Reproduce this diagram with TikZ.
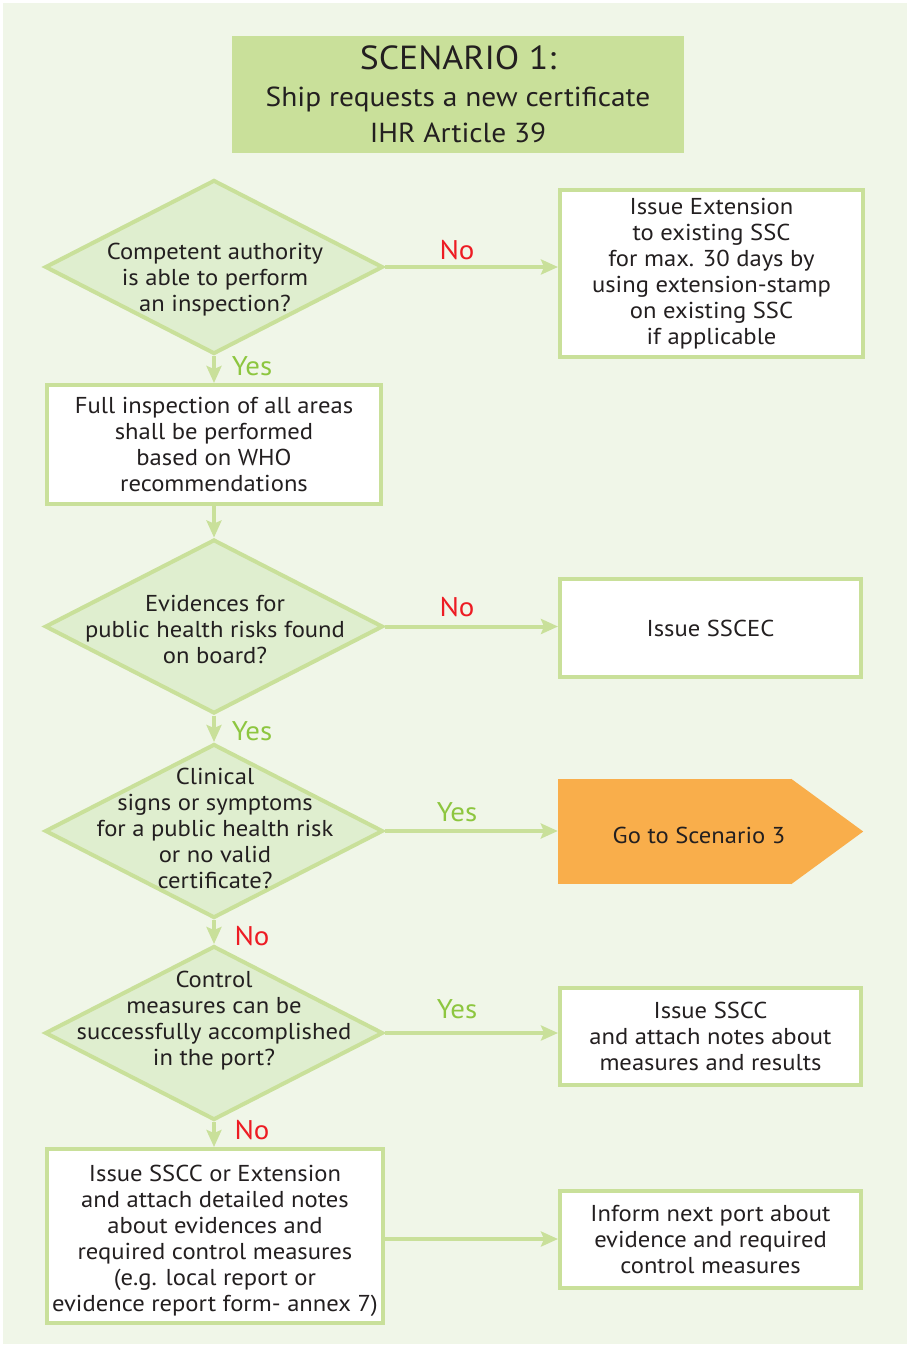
\documentclass[tikz,border=0pt]{standalone}
\usepackage{fontspec}
\setmainfont{PT Sans}[FakeStretch=1.07]
\usetikzlibrary{shapes.geometric,arrows.meta}
\definecolor{bgc}{RGB}{240,246,232}
\definecolor{lg}{RGB}{201,224,154}
\definecolor{dfill}{RGB}{223,238,207}
\definecolor{yesc}{RGB}{141,198,63}
\definecolor{noc}{RGB}{237,28,36}
\definecolor{orng}{RGB}{249,174,75}
\definecolor{txt}{RGB}{35,31,32}
\begin{document}
\begin{tikzpicture}[x=1pt,y=-1pt,
  every node/.style={text=txt},
  box/.style={draw=lg, line width=4pt, fill=white, inner sep=0pt, align=center,
    font=\fontsize{23}{26}\selectfont},
  dia/.style={diamond, draw=lg, fill=dfill, line width=4pt, inner sep=0pt,
    minimum width=338pt, minimum height=174pt, aspect=1.94},
  dtext/.style={align=center, font=\fontsize{23}{26}\selectfont, inner sep=0pt},
  arr/.style={draw=lg, line width=4pt, -{Stealth[length=17pt,width=15pt,inset=3pt]}},
  yeslab/.style={text=yesc, font=\fontsize{27}{30}\selectfont, inner sep=0pt},
  nolab/.style={text=noc, font=\fontsize{27}{30}\selectfont, inner sep=0pt}]
\useasboundingbox (0,0) rectangle (910,1347);
\fill[bgc] (3,3) rectangle (907,1344);

% title
\node[fill=lg, minimum width=452pt, minimum height=117pt, inner sep=0pt] (title) at (458,94.5) {};
\node[font=\fontsize{33.4}{36}\selectfont, inner sep=0pt] (t1) at (458,58) {SCENARIO 1:};
\node[font=\fontsize{27.5}{32}\selectfont, inner sep=0pt] (t2) at (458,99) {Ship requests a new certificate};
\node[font=\fontsize{27.5}{32}\selectfont, inner sep=0pt] (t3) at (458,133) {IHR Article 39};

% diamonds
\node[dia] (d1) at (214,267) {};
\node[dtext] (d1t) at (215,280) {Competent authority\\is able to perform\\an inspection?};
\node[dia] (d2) at (214,626.5) {};
\node[dtext] (d2t) at (215,629) {Evidences for\\public health risks found\\on board?};
\node[dia] (d3) at (214,831) {};
\node[dtext] (d3t) at (215,828) {Clinical\\signs or symptoms\\for a public health risk\\or no valid\\certificate?};
\node[dia] (d4) at (214,1033) {};
\node[dtext] (d4t) at (214,1020.5) {Control\\measures can be\\successfully accomplished\\in the port?};

% boxes
\node[box, minimum width=303pt, minimum height=167pt] (bA) at (711.5,273.5)
  {Issue Extension\\to existing SSC\\for max. 30 days by\\using extension-stamp\\on existing SSC\\if applicable};
\node[box, minimum width=334pt, minimum height=119pt] (b2) at (214,444.5)
  {Full inspection of all areas\\shall be performed\\based on WHO\\recommendations};
\node[box, minimum width=301pt, minimum height=98pt] (bS) at (710.5,628)
  {\raisebox{-3pt}{Issue SSCEC}};
\node[box, minimum width=301pt, minimum height=97pt] (bC) at (710.5,1036.5)
  {Issue SSCC\\and attach notes about\\measures and results};
\node[box, minimum width=336pt, minimum height=174pt] (bL) at (215,1236) {};
\node[dtext] (bLt) at (215,1241)
  {Issue SSCC or Extension\\and attach detailed notes\\about evidences and\\required control measures\\(e.g. local report or\\evidence report form- annex 7)};
\node[box, minimum width=301pt, minimum height=97pt] (bI) at (710.5,1239.5)
  {Inform next port about\\evidence and required\\control measures};

% orange
\node[fill=orng, minimum width=233pt, minimum height=105pt, inner sep=0pt] (go) at (674.5,831.5) {};
\fill[orng] (go.north east) -- ([xshift=72pt]go.east) -- (go.south east) -- cycle;
\node[font=\fontsize{23}{26}\selectfont, inner sep=0pt] (gotext) at (699,835) {Go to Scenario 3};

% arrows
\draw[arr] (d1.east) -- (bA.west |- d1.east);
\draw[arr] (d1.south) -- (b2.north);
\draw[arr] (b2.south) -- (d2.north);
\draw[arr] (d2.east) -- (bS.west |- d2.east);
\draw[arr] (d2.south) -- (d3.north);
\draw[arr] (d3.east) -- (go.west |- d3.east);
\draw[arr] (d3.south) -- (d4.north);
\draw[arr] (d4.east) -- (bC.west |- d4.east);
\draw[arr] (d4.south) -- (bL.north -| d4.south);
\draw[arr] ([yshift=-3pt]bL.east) -- ([yshift=-3pt]bL.east -| bI.west);

% labels
\node[nolab] (n1) at (457,250) {No};
\node[yeslab] (y1) at (252,366) {Yes};
\node[nolab] (n2) at (457,607) {No};
\node[yeslab] (y2) at (252,731) {Yes};
\node[yeslab] (y3) at (457,812) {Yes};
\node[nolab] (n3) at (252,936) {No};
\node[yeslab] (y4) at (457,1009) {Yes};
\node[nolab] (n4) at (252,1130) {No};
\end{tikzpicture}
\end{document}
